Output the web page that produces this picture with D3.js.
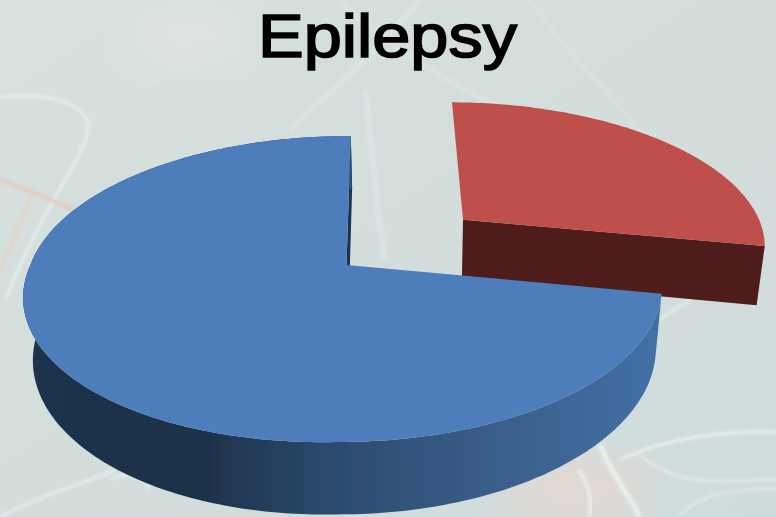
<!DOCTYPE html>
<html>
<head>
<meta charset="utf-8">
<script src="https://cdn.jsdelivr.net/npm/d3@7"></script>
<style>
  html, body { margin: 0; padding: 0; background: #d3dedd; }
  svg { display: block; }
</style>
</head>
<body>
<svg id="chart" width="776" height="517"></svg>
<script>
// values, no labels are shown for the slices
const title = "Epilepsy";
const categories = ["Seizure", "Other"];
const values = [28, 72];
const topColors = ["#be4f4b", "#4d7ebb"];
const wallColors = ["#4f1e1c", "#1c324d"];

const width = 776, height = 517;

// camera used for the tilted pie
const cam = { cx: 346.5, cy: 265, sx: 314, sy: 149.2, k: 0.157, m: 0.006, vx: 378, vbx: 415, q: 0.024, depth: 61 };
const explode = { Seizure: 0.5, Other: 0 };

function project(X, Y, z) {
    let w = 1 - cam.k * Y + cam.m * X;
    let x = cam.vx + (cam.cx - cam.vx + cam.sx * X) / w;
    let y = cam.cy + cam.sy * Y / w;
    if (z) {
        x += (cam.vbx - x) * cam.q / w;
        y += cam.depth / w;
    }
    return [x, y];
}

const svg = d3.select("#chart");
const defs = svg.append("defs");

// background
let bg = defs.append("linearGradient").attr("id", "bg")
    .attr("x1", 0).attr("y1", 0).attr("x2", 1).attr("y2", 1);
bg.append("stop").attr("offset", 0).attr("stop-color", "#d6e0df");
bg.append("stop").attr("offset", 0.5).attr("stop-color", "#d2dddc");
bg.append("stop").attr("offset", 1).attr("stop-color", "#d0dcdb");
svg.append("rect").attr("width", width).attr("height", height).attr("fill", "url(#bg)");

defs.append("filter").attr("id", "soft").append("feGaussianBlur").attr("stdDeviation", 1.6);
defs.append("filter").attr("id", "softer").append("feGaussianBlur").attr("stdDeviation", 22);
defs.append("filter").attr("id", "text").append("feGaussianBlur").attr("stdDeviation", 0.6);
defs.append("filter").attr("id", "edge").append("feGaussianBlur").attr("stdDeviation", 0.4);

svg.append("ellipse").attr("cx", 190).attr("cy", 35).attr("rx", 70).attr("ry", 40)
    .attr("fill", "#dde3e0").attr("filter", "url(#softer)");
svg.append("ellipse").attr("cx", 575).attr("cy", 490).attr("rx", 70).attr("ry", 35)
    .attr("fill", "#e3d8d3").attr("filter", "url(#softer)");

const decor = svg.append("g").attr("fill", "none");
const streaks = [
    ["M0,97 C40,92 80,100 88,122 C92,150 50,190 5,300", "#eef5f4", 2.5, 0.8],
    ["M0,180 C30,190 50,200 85,215", "#e8c4b4", 4, 0.7],
    ["M35,190 C20,220 10,250 0,270", "#e7cfc2", 5, 0.6],
    ["M130,90 C180,70 210,60 240,30", "#dde5e3", 3, 0.4],
    ["M290,130 C320,100 360,70 420,0", "#dfe9e8", 5, 0.6],
    ["M365,90 C372,140 375,200 385,260", "#e0eaea", 6, 0.5],
    ["M340,0 C390,50 470,100 560,130", "#dfe9e8", 5, 0.5],
    ["M530,0 C570,60 630,110 660,160", "#dfe9e8", 3, 0.5],
    ["M665,120 C675,150 685,180 690,200", "#e4d3cb", 8, 0.35],
    ["M660,320 C680,305 700,295 720,275", "#e6efee", 3, 0.8],
    ["M620,460 C660,440 720,430 776,432", "#eef5f4", 3, 0.8],
    ["M640,455 C680,490 730,480 776,480", "#e9f1f0", 2.5, 0.7],
    ["M680,517 C700,490 740,490 776,488", "#e9f1f0", 2, 0.7],
    ["M600,445 C610,470 625,490 640,517", "#eef5f4", 5, 0.8],
    ["M578,470 C590,485 592,500 590,517", "#eef5f4", 4, 0.7],
    ["M0,517 C40,495 80,485 115,470", "#e9f1f0", 3, 0.8],
    ["M110,480 C130,470 140,475 150,490", "#eef5f4", 3, 0.6]
];
decor.selectAll("path")
    .data(streaks)
    .join("path")
    .attr("d", d => d[0])
    .attr("stroke", d => d[1])
    .attr("stroke-width", d => d[2])
    .attr("opacity", d => d[3])
    .attr("filter", "url(#soft)");

// side of the blue slice gets lighter to the right
const rimStops = [[33, "#1c324d"], [200, "#1e3049"], [330, "#2b4a6e"], [500, "#3a5f8b"], [655, "#4270a5"]];
let rim = defs.append("linearGradient").attr("id", "rim")
    .attr("gradientUnits", "userSpaceOnUse")
    .attr("x1", 33).attr("y1", 0).attr("x2", 655).attr("y2", 0);
rim.selectAll("stop").data(rimStops).join("stop")
    .attr("offset", d => (d[0] - 33) / (655 - 33))
    .attr("stop-color", d => d[1]);

const pie = d3.pie().sort(null).startAngle(0).endAngle(2 * Math.PI);
const arcs = pie(values);
const line = d3.line();

function ground(a, r, off) {
    return [off[0] + r * Math.sin(a), off[1] - r * Math.cos(a)];
}

// the original outline bulges a little at the lower left
function radius(a) {
    return (a > Math.PI && a < 1.5 * Math.PI) ? 1 + 0.02 * Math.sin(2 * (a - Math.PI)) : 1;
}

function arcPoints(d, off, z, reverse) {
    let n = Math.ceil((d.endAngle - d.startAngle) * 60);
    let pts = d3.range(n + 1).map(i => {
        let a = d.startAngle + (d.endAngle - d.startAngle) * i / n;
        let g = ground(a, radius(a), off);
        return project(g[0], g[1], z);
    });
    return reverse ? pts.reverse() : pts;
}

const chart = svg.append("g").attr("filter", "url(#edge)");

arcs.forEach((d, i) => {
    let name = categories[i];
    let mid = (d.startAngle + d.endAngle) / 2;
    let off = [explode[name] * Math.sin(mid), -explode[name] * Math.cos(mid)];
    let g = chart.append("g").attr("class", "slice");
    let centerTop = project(off[0], off[1], 0);
    let centerBot = project(off[0], off[1], 1);
    // flat side at the end of each slice
    let end = ground(d.endAngle, 1, off);

    g.append("path")
        .attr("d", line([centerTop, project(end[0], end[1], 0), project(end[0], end[1], 1), centerBot]) + "Z")
        .attr("fill", wallColors[i]);

    if (explode[name] === 0) {
        g.append("path")
            .attr("d", line(arcPoints(d, off, 0).concat(arcPoints(d, off, 1, true))) + "Z")
            .attr("fill", "url(#rim)");
    }

    g.append("path")
        .attr("d", line([centerTop].concat(arcPoints(d, off, 0))) + "Z")
        .attr("fill", topColors[i]);
});

svg.append("text")
    .attr("x", 258)
    .attr("y", 56.5)
    .attr("textLength", 259)
    .attr("lengthAdjust", "spacingAndGlyphs")
    .attr("font-family", "'Liberation Sans', Arial, sans-serif")
    .attr("font-size", 62)
    .attr("fill", "#000")
    .attr("stroke", "#000")
    .attr("stroke-width", 1.7)
    .attr("filter", "url(#text)")
    .text(title);
</script>
</body>
</html>
